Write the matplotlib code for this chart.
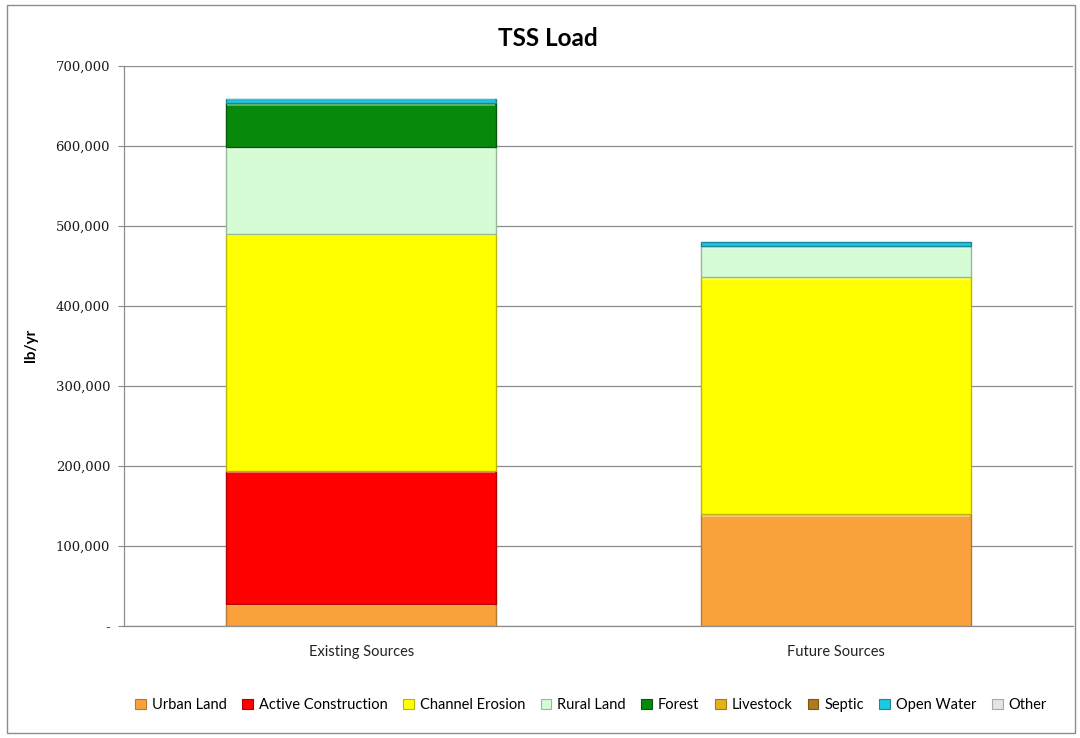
import matplotlib
matplotlib.use("Agg")
import matplotlib.pyplot as plt
from matplotlib.patches import Rectangle, Patch
from matplotlib.ticker import FuncFormatter, MultipleLocator
import numpy as np

# Scenario categories and TSS load by source (lb/yr)
scenarios = ["Existing Sources", "Future Sources"]
sources = ["Urban Land", "Active Construction", "Channel Erosion", "Rural Land",
           "Forest", "Livestock", "Septic", "Open Water", "Other"]
urban_land = [28000, 140000]
active_construction = [166000, 0]
channel_erosion = [296000, 296000]
rural_land = [108000, 38000]
forest = [55000, 0]
livestock = [0, 0]
septic = [0, 0]
open_water = [5000, 5000]
other = [0, 0]

series = [urban_land, active_construction, channel_erosion, rural_land,
          forest, livestock, septic, open_water, other]
colors = ["#F9A23B", "#FF0000", "#FFFF00", "#D6FCD6", "#078A0B",
          "#E2B21E", "#B07A1E", "#1FC8E0", "#E4E4E4"]
edges = ["#B57A35", "#B00000", "#B8B800", "#98B898", "#055A07",
         "#A07E10", "#7A5410", "#158A9A", "#A8A8A8"]

fig = plt.figure(figsize=(10.8, 7.38), dpi=100)
ax = fig.add_axes([124 / 1080, 1 - 626 / 738, (1073 - 124) / 1080, (626 - 65.5) / 738])

x = np.arange(len(scenarios))
bottom = np.zeros(len(scenarios))
for vals, col, ec in zip(series, colors, edges):
    v = np.array(vals, dtype=float)
    mask = v > 0
    if mask.any():
        ax.bar(x[mask], v[mask], width=0.57, bottom=bottom[mask], color=col,
               edgecolor=ec, linewidth=1.0, zorder=3)
        # light bevel along the top edge of each segment
        hi = min(2200, 0.15 * v[mask].min())
        ax.bar(x[mask], np.full(mask.sum(), hi), width=0.565,
               bottom=bottom[mask] + v[mask] - hi * 1.6,
               color="white", alpha=0.35, linewidth=0, zorder=4)
    bottom += v

ax.set_xlim(-0.5, 1.5)
ax.set_ylim(0, 700000)
ax.yaxis.set_major_locator(MultipleLocator(100000))
ax.yaxis.set_major_formatter(FuncFormatter(lambda v, p: "-" if v == 0 else f"{v:,.0f}"))
ax.set_xticks(x)
ax.set_xticklabels(scenarios, fontfamily="Lato", fontsize=10.5, color="#222222")
for lbl in ax.get_yticklabels():
    lbl.set_fontfamily("DejaVu Serif")
    lbl.set_fontsize(9.5)
    lbl.set_color("#1A1A1A")
ax.tick_params(axis="x", length=0, pad=14)
ax.tick_params(axis="y", length=4, color="#888888", pad=6, direction="out")

ax.grid(axis="y", color="#8C8C8C", linewidth=0.9, zorder=0)
ax.set_axisbelow(True)
for side in ("top", "right"):
    ax.spines[side].set_visible(False)
for side in ("left", "bottom"):
    ax.spines[side].set_color("#8C8C8C")
    ax.spines[side].set_linewidth(0.9)

ax.set_ylabel("lb/yr", fontfamily="Lato", fontweight="bold", fontsize=11)
ax.yaxis.set_label_coords(-0.091, 0.5)

fig.text(548 / 1080, 1 - 38 / 738, "TSS Load", ha="center", va="center",
         fontfamily="Lato", fontweight="bold", fontsize=17.5)

handles = [Patch(facecolor=c, edgecolor=e, linewidth=0.8) for c, e in zip(colors, edges)]
fig.legend(handles, sources, loc="center", bbox_to_anchor=(591 / 1080, 1 - 705 / 738),
           ncol=len(sources), frameon=False, prop={"family": "Lato", "size": 10.5},
           handlelength=0.75, handleheight=0.75, handletextpad=0.4, columnspacing=1.05)

fig.patches.append(Rectangle((7 / 1080, 1 - 733 / 738), (1075 - 7) / 1080, (733 - 5) / 738,
                             transform=fig.transFigure, fill=False,
                             edgecolor="#8C8C8C", linewidth=1.0))

fig.savefig("out.png", dpi=100)
